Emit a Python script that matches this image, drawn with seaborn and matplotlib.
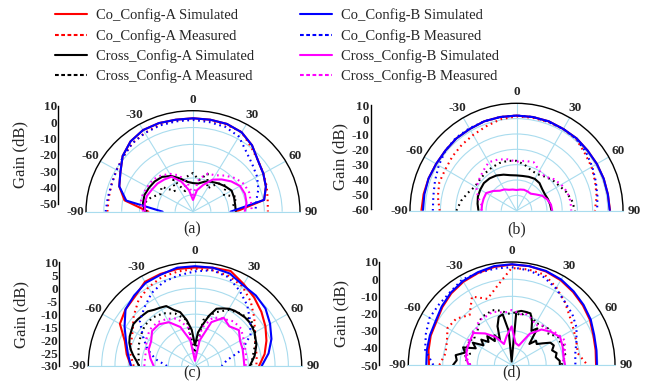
import numpy as np
import matplotlib
matplotlib.use("Agg")
import matplotlib.pyplot as plt
from matplotlib.lines import Line2D
import seaborn as sns

sns.set_style("white")
plt.rcParams["font.family"] = ["Liberation Serif", "DejaVu Serif"]
plt.rcParams["axes.unicode_minus"] = False

# angles (deg), 0 = broadside
ang10 = np.arange(-90, 91, 10)
ang5 = np.arange(-90, 91, 5)

# ---- panel (a) ----
a_co_a_sim = [-25, -11, -6, -3, 1.5, 4.5, 6, 6, 5.5, 5.5, 5.5, 5.5, 4.5, 1.5, -2.5, -4.5, -6.5, -9.5, -26]
a_co_a_meas = [-2, -2, -1.5, -0.5, 1, 3, 4, 5, 5, 5, 5, 5, 4.5, 0.5, -2.5, -4.5, -6, -7.5, -8]
a_cr_a_sim = [-23, -21.5, -21, -21.5, -22, -23, -25.5, -29, -32, -33, -33, -31, -29.5, -28, -26.5, -25, -25.5, -26, -26]
a_cr_a_meas = [-24, -22, -25, -29, -27, -34, -28, -37, -29, -27, -31, -26, -34, -28, -26, -30, -24, -27, -25]
a_co_b_sim = [-33, -12, -6, -3, 1.5, 4.5, 6, 6, 5.5, 5.5, 5.5, 5.5, 4.5, 1.5, -2.5, -4.5, -6.5, -9.5, -29]
a_co_b_meas = [-1, -1.5, -1.5, -0.5, 1, 3, 4, 4.5, 4.5, 4.5, 4, 3.5, 1.5, -3.5, -6.5, -8.5, -11, -14, -15]
a_cr_b_sim = [-23, -22.5, -22.5, -23.5, -24, -25, -26, -31, -37, -43, -37, -33, -28, -25, -22, -19.5, -19, -19.5, -21]
a_cr_b_meas = [-22, -20, -20, -20.5, -20.5, -22, -24, -27, -33, -40, -30, -26, -25, -22, -19, -17, -16.5, -17, -17]

# ---- panel (b) ----
b_co_a_sim = [2.5, 2, 1.5, 1, 1, 1.5, 1.5, 2, 2, 2, 2, 2, 1.5, 1.5, 1, 1, 1, 1, 1.5]
b_co_a_meas = [-9.5, -7.5, -6, -6, -5, -4, -3, -1.5, 0.5, 1.5, 1.5, 1.5, 1.5, 1, -1.5, -3, -5, -6.5, -8.5]
b_cr_a_sim = [-35, -34, -33, -32.5, -32, -32.5, -33.5, -35, -36.5, -37, -37, -36.5, -36, -36.5, -38, -38.5, -38, -37.5, -37]
b_cr_a_meas = [-20.5, -23, -26, -28.5, -28.5, -28, -27.5, -27, -27, -27.5, -29.5, -32, -32.5, -31, -29, -27.5, -25, -23, -21.5]
b_co_b_sim = [1.5, 1.5, 1.5, 1, 1, 1.5, 1.5, 2, 2, 2, 2, 2, 1.5, 1.5, 1, 1, 1, 1, 1.3]
b_co_b_meas = [-5, -4.5, -3, -1, 1, 2, 2, 2, 2, 2, 2, 1.5, 1.5, 1, -0.5, -2.5, -4.5, -6, -7]
b_cr_b_sim = [-37, -37, -37, -37, -40, -43, -44, -45.5, -46, -46.5, -46, -45.5, -45.5, -45.5, -43.5, -40.5, -38.5, -37, -36.5]
b_cr_b_meas = [-37, -36.5, -33, -29.5, -28, -26, -23.5, -24.5, -26, -28, -27, -26.5, -30, -31, -28, -26, -24.5, -24, -24]

# ---- panel (c) ----
c_co_a_sim = [-6, -4, -2, 2.5, 4, 5, 7.5, 7.8, 8, 8, 8.5, 9, 6.5, 4.5, 2.5, 0.5, -1.5, -3.5, -6]
c_co_a_meas = [-7, -5.5, -4.5, -3, 0, 3, 5, 6.5, 7, 7.5, 7.5, 7, 5.5, 2.5, -1, -4, -6, -6.5, -7]
c_cr_a_sim = [-9, -8, -6.5, -5, -3.8, -3, -2.5, -1.8, -2, -2.3, -2.5, -3.5, -4, -4.5, -7, -8.5, -12, -16, -22,
              -17, -14, -10, -6.5, -5.5, -4.5, -4, -3.8, -3.5, -3.5, -3.8, -4.2, -5, -5.5, -6.5, -7.3, -8.5, -9.5]
c_cr_a_meas = [-9, -8.5, -7.5, -6.5, -5.5, -5.5, -6.5, -8.5, -12, -25, -12, -8, -5, -3.5, -2.5, -4, -6, -8, -9]
c_co_b_sim = [-6, -4.5, -2.5, 0.5, 4, 5.5, 7, 7.5, 8.5, 8.5, 8.5, 8, 6, 5.5, 4.5, 2.5, 0.5, -2, -5]
c_co_b_meas = [-19.5, -15, -11, -7.5, -3, -0.5, 2.5, 4.5, 5.5, 6.5, 7.5, 6.5, 3.5, 0.5, -3, -6, -11, -18, -20]
c_cr_b_sim = [-14.5, -13, -11.5, -11, -9, -9, -10.5, -14, -20, -28, -20, -12, -8.5, -10, -8.5, -10.5, -11, -11.5, -11.5]
c_cr_b_meas = [-11, -11, -10.5, -9, -8, -8, -9, -10.5, -15, -27, -15, -10, -9, -7.5, -7.5, -9, -10, -10.5, -11]

# ---- panel (d) ----
d_co_a_sim = [-2, -1, 0, 0.5, 2.5, 4.5, 6, 7, 8, 8.5, 8.5, 8, 7, 5.5, 4, 2.5, 0.5, -0.5, -1]
d_co_a_meas = [-8, -11, -10, -7, -8, -12, -4, -9, -3, 6.5, 6.5, 6, 2, -2, -6, -8.5, -10, -11, -6]
d_cr_a_sim = [-16, -18, -17, -22, -20, -27, -24, -30, -27, -31, -28, -33, -30, -34, -26, -21, -20, -30, -48,
              -19, -18, -18, -18, -22, -27, -24, -34, -30, -31, -28, -24, -23, -25, -23, -24, -22, -22]
d_cr_a_meas = [-26, -24, -22, -25, -21, -23, -21, -24, -21, -22, -20, -18, -17, -17, -16, -17, -18, -20, -20,
               -19, -21, -18, -19, -20, -22, -21, -21, -20, -22, -20, -18, -19, -17, -19, -18, -20, -21]
d_co_b_sim = [-0.5, 0, 0.5, 1, 3, 5, 6.5, 7.5, 8.5, 8.7, 8.5, 8.3, 7.5, 6, 4.5, 3, 1, 0, -0.5]
d_co_b_meas = [-4.5, 1, 3, 5, 5, 5.5, 7.5, 7, 7, 7, 6, 4.5, 1.5, -2, -4, -6.5, -10, -12.5, -13]
d_cr_b_sim = [-25, -23, -22.5, -22, -21, -26, -31, -37, -33, -27.5, -37, -38, -29, -23, -20, -17.5, -18.5, -19.5, -19]
d_cr_b_meas = [-26, -25, -23, -24, -22, -22, -21, -22, -20, -21, -19, -18, -18, -18, -17, -18, -19, -19, -18,
               -19, -20, -19, -20, -21, -23, -22, -20, -21, -19, -18, -17, -16, -17, -18, -19, -20, -21]

theta_labels = ["-90", "-60", "-30", "0", "30", "60", "90"]
legend_labels = ["Co_Config-A Simulated", "Co_Config-A Measured",
                 "Cross_Config-A Simulated", "Cross_Config-A Measured",
                 "Co_Config-B Simulated", "Co_Config-B Measured",
                 "Cross_Config-B Simulated", "Cross_Config-B Measured"]

RED, BLUE, BLACK, MAG = "#ff0000", "#0000ff", "#000000", "#ff00ff"
GRID = "#a9dcee"
DOT = (0, (0.8, 1.8))
DASH = (0, (1.8, 1.2))
W, H = 651, 390

fig = plt.figure(figsize=(6.51, 3.9), dpi=100)


def polar_panel(box, rmin, rstep, curves):
    left, right, top, base = box
    h = base - top
    ax = fig.add_axes([left / W, 1 - (base + h / 2) / H, (right - left) / W, 2 * h / H],
                      projection="polar")
    for ang, vals, col, ls in curves:
        sns.lineplot(x=np.deg2rad(ang), y=vals, ax=ax, color=col, linestyle=ls,
                     lw=1.5, estimator=None, legend=False)
    ax.set_xlabel("")
    ax.set_ylabel("")
    ax.set_theta_zero_location("N")
    ax.set_theta_direction(-1)
    ax.set_thetamin(-90)
    ax.set_thetamax(90)
    ax.set_rlim(rmin, 10)
    ax.set_rticks(np.arange(rmin + rstep, 10, rstep))
    ax.set_yticklabels([])
    ax.set_thetagrids(np.arange(-90, 91, 30), labels=theta_labels)
    ax.grid(True, color=GRID, lw=0.8, ls="-")
    ax.tick_params(axis="x", direction="in", length=4, pad=1, labelsize=9.5)
    ax.tick_params(axis="y", length=0)
    for t in ax.get_xticklabels():
        t.set_fontweight("bold")
    ax.spines["polar"].set_color("black")
    ax.spines["polar"].set_linewidth(1)
    ax.spines["start"].set_color(GRID)
    ax.spines["end"].set_color(GRID)
    ax.spines["inner"].set_visible(False)
    ax.set_aspect("auto")
    return ax


def gain_axis(x, y_top, y_bot, rmin, step, lpad=8):
    gx = fig.add_axes([x / W, 1 - y_bot / H, 0.001, (y_bot - y_top) / H])
    gx.set_ylim(rmin, 10)
    gx.set_yticks(np.arange(rmin, 11, step))
    gx.set_xticks([])
    for s in ["top", "right", "bottom"]:
        gx.spines[s].set_visible(False)
    gx.spines["left"].set_color("black")
    gx.spines["left"].set_linewidth(1)
    gx.patch.set_alpha(0)
    gx.tick_params(axis="y", direction="in", length=3, labelsize=9.5, pad=1)
    for t in gx.get_yticklabels():
        t.set_fontweight("bold")
    gx.set_ylabel("Gain (dB)", fontsize=12, labelpad=lpad)


def curves_for(co_a_sim, co_a_meas, cr_a_sim, cr_a_meas, co_b_sim, co_b_meas, cr_b_sim, cr_b_meas,
               ang_cr_a=ang10, ang_cr_a_m=ang10, ang_cr_b_m=ang10):
    return [(ang10, co_a_sim, RED, "-"), (ang10, co_a_meas, RED, DOT),
            (ang_cr_a, cr_a_sim, BLACK, "-"), (ang_cr_a_m, cr_a_meas, BLACK, DOT),
            (ang10, co_b_sim, BLUE, "-"), (ang10, co_b_meas, BLUE, DOT),
            (ang10, cr_b_sim, MAG, "-"), (ang_cr_b_m, cr_b_meas, MAG, DOT)]


polar_panel((86, 300, 110.7, 211.7), -50, 10,
            curves_for(a_co_a_sim, a_co_a_meas, a_cr_a_sim, a_cr_a_meas,
                       a_co_b_sim, a_co_b_meas, a_cr_b_sim, a_cr_b_meas))
gain_axis(58.3, 105.7, 203.7, -50, 10)

polar_panel((410, 623, 103.3, 210.7), -60, 10,
            curves_for(b_co_a_sim, b_co_a_meas, b_cr_a_sim, b_cr_a_meas,
                       b_co_b_sim, b_co_b_meas, b_cr_b_sim, b_cr_b_meas))
gain_axis(370.7, 105, 209, -60, 10, lpad=2)

polar_panel((88.3, 301.7, 262.3, 366), -30, 5,
            curves_for(c_co_a_sim, c_co_a_meas, c_cr_a_sim, c_cr_a_meas,
                       c_co_b_sim, c_co_b_meas, c_cr_b_sim, c_cr_b_meas,
                       ang_cr_a=ang5))
gain_axis(59.3, 262.3, 366, -30, 5)

polar_panel((408.3, 615, 262, 365), -50, 10,
            curves_for(d_co_a_sim, d_co_a_meas, d_cr_a_sim, d_cr_a_meas,
                       d_co_b_sim, d_co_b_meas, d_cr_b_sim, d_cr_b_meas,
                       ang_cr_a=ang5, ang_cr_a_m=ang5, ang_cr_b_m=ang5))
gain_axis(379.3, 262, 365, -50, 10)

for lbl, (x, y) in zip(["(a)", "(b)", "(c)", "(d)"],
                       [(192, 229), (517, 229), (192, 373), (512, 372)]):
    fig.text(x / W, 1 - y / H, lbl, ha="center", va="center", fontsize=11.5)

# legend: two columns
styles = [(RED, "-"), (RED, DASH), (BLACK, "-"), (BLACK, DASH),
          (BLUE, "-"), (BLUE, DASH), (MAG, "-"), (MAG, DASH)]
handles = [Line2D([], [], color=c, ls=s, lw=1.5) for c, s in styles]
for i, x0 in enumerate([55, 300]):
    fig.legend(handles[4 * i:4 * i + 4], legend_labels[4 * i:4 * i + 4],
               loc="upper left", bbox_to_anchor=(x0 / W, 1 - 8.5 / H), frameon=False,
               fontsize=10.5, handlelength=2.2, handletextpad=0.6, labelspacing=0.45,
               borderpad=0, borderaxespad=0)

fig.savefig("out.png", dpi=100)
